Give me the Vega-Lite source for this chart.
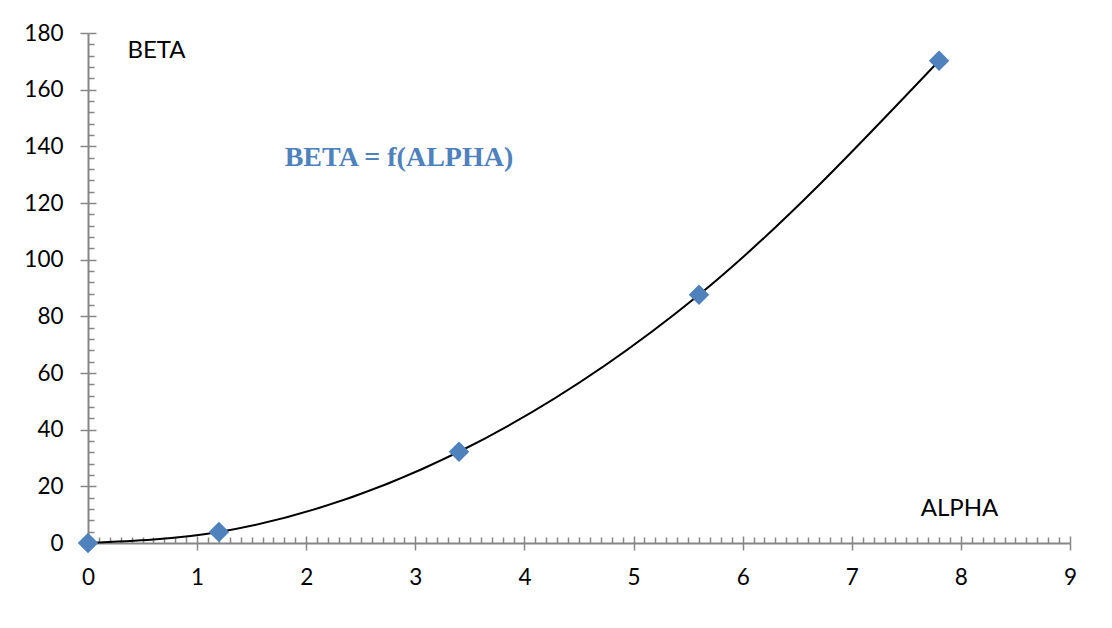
{
  "$schema": "https://vega.github.io/schema/vega-lite/v6.json",
  "width": 982,
  "height": 510,
  "autosize": "none",
  "padding": {"left": 88, "top": 33, "right": 42, "bottom": 85},
  "background": "white",
  "config": {
    "view": {"stroke": null},
    "font": "Lato",
    "axis": {
      "domainColor": "#868686",
      "domainWidth": 2,
      "tickColor": "#868686",
      "tickWidth": 1.5,
      "grid": false,
      "labelFont": "Lato",
      "labelFontSize": 22.5,
      "labelColor": "#000000",
      "labelFlush": false,
      "titleFont": "Lato",
      "titleFontWeight": "normal",
      "titleFontSize": 24,
      "titleColor": "#000000"
    }
  },
  "data": {
    "values": [
      {"alpha": 0, "beta": 0},
      {"alpha": 1.2, "beta": 3.9},
      {"alpha": 3.4, "beta": 32.2},
      {"alpha": 5.6, "beta": 87.6},
      {"alpha": 7.8, "beta": 170.2}
    ]
  },
  "resolve": {"axis": {"x": "independent", "y": "independent"}},
  "layer": [
    {
      "mark": {"type": "line", "interpolate": "monotone", "color": "#000000", "strokeWidth": 2},
      "encoding": {
        "x": {
          "field": "alpha", "type": "quantitative",
          "scale": {"domain": [0, 9], "nice": false},
          "axis": {
            "orient": "bottom",
            "values": [0, 1, 2, 3, 4, 5, 6, 7, 8, 9],
            "tickSize": 7,
            "labelPadding": 16,
            "title": "ALPHA",
            "titleAngle": 0,
            "titleX": 871,
            "titleY": -35,
            "titleAlign": "center",
            "titleBaseline": "middle"
          }
        },
        "y": {
          "field": "beta", "type": "quantitative",
          "scale": {"domain": [0, 180], "nice": false},
          "axis": {
            "orient": "left",
            "values": [0, 20, 40, 60, 80, 100, 120, 140, 160, 180],
            "tickSize": 8,
            "labelPadding": 17,
            "title": "BETA",
            "titleAngle": 0,
            "titleX": 68,
            "titleY": 17,
            "titleAlign": "center",
            "titleBaseline": "middle"
          }
        }
      }
    },
    {
      "mark": {"type": "point", "shape": "diamond", "filled": true, "size": 420, "color": "#4F81BD", "opacity": 1},
      "encoding": {
        "x": {
          "field": "alpha", "type": "quantitative",
          "axis": {
            "orient": "bottom",
            "values": [0.1, 0.2, 0.3, 0.4, 0.5, 0.6, 0.7, 0.8, 0.9, 1.1, 1.2, 1.3, 1.4, 1.5, 1.6, 1.7, 1.8, 1.9, 2.1, 2.2, 2.3, 2.4, 2.5, 2.6, 2.7, 2.8, 2.9, 3.1, 3.2, 3.3, 3.4, 3.5, 3.6, 3.7, 3.8, 3.9, 4.1, 4.2, 4.3, 4.4, 4.5, 4.6, 4.7, 4.8, 4.9, 5.1, 5.2, 5.3, 5.4, 5.5, 5.6, 5.7, 5.8, 5.9, 6.1, 6.2, 6.3, 6.4, 6.5, 6.6, 6.7, 6.8, 6.9, 7.1, 7.2, 7.3, 7.4, 7.5, 7.6, 7.7, 7.8, 7.9, 8.1, 8.2, 8.3, 8.4, 8.5, 8.6, 8.7, 8.8, 8.9],
            "tickSize": -6,
            "labels": false,
            "domain": false,
            "title": null
          }
        },
        "y": {
          "field": "beta", "type": "quantitative",
          "axis": {
            "orient": "left",
            "values": [4, 8, 12, 16, 24, 28, 32, 36, 44, 48, 52, 56, 64, 68, 72, 76, 84, 88, 92, 96, 104, 108, 112, 116, 124, 128, 132, 136, 144, 148, 152, 156, 164, 168, 172, 176],
            "tickSize": -6,
            "labels": false,
            "domain": false,
            "title": null
          }
        }
      }
    },
    {
      "data": {"values": [{"alpha": 2.85, "beta": 135.9, "label": "BETA = f(ALPHA)"}]},
      "mark": {"type": "text", "font": "Liberation Serif", "fontWeight": "bold", "fontSize": 28, "color": "#4F81BD", "align": "center", "baseline": "middle"},
      "encoding": {
        "x": {
          "field": "alpha", "type": "quantitative",
          "axis": {
            "orient": "bottom",
            "values": [0, 1, 2, 3, 4, 5, 6, 7, 8, 9],
            "tickSize": -7,
            "labels": false,
            "domain": false,
            "title": null
          }
        },
        "y": {
          "field": "beta", "type": "quantitative",
          "axis": {
            "orient": "left",
            "values": [0, 20, 40, 60, 80, 100, 120, 140, 160, 180],
            "tickSize": -8,
            "labels": false,
            "domain": false,
            "title": null
          }
        },
        "text": {"field": "label"}
      }
    }
  ]
}
